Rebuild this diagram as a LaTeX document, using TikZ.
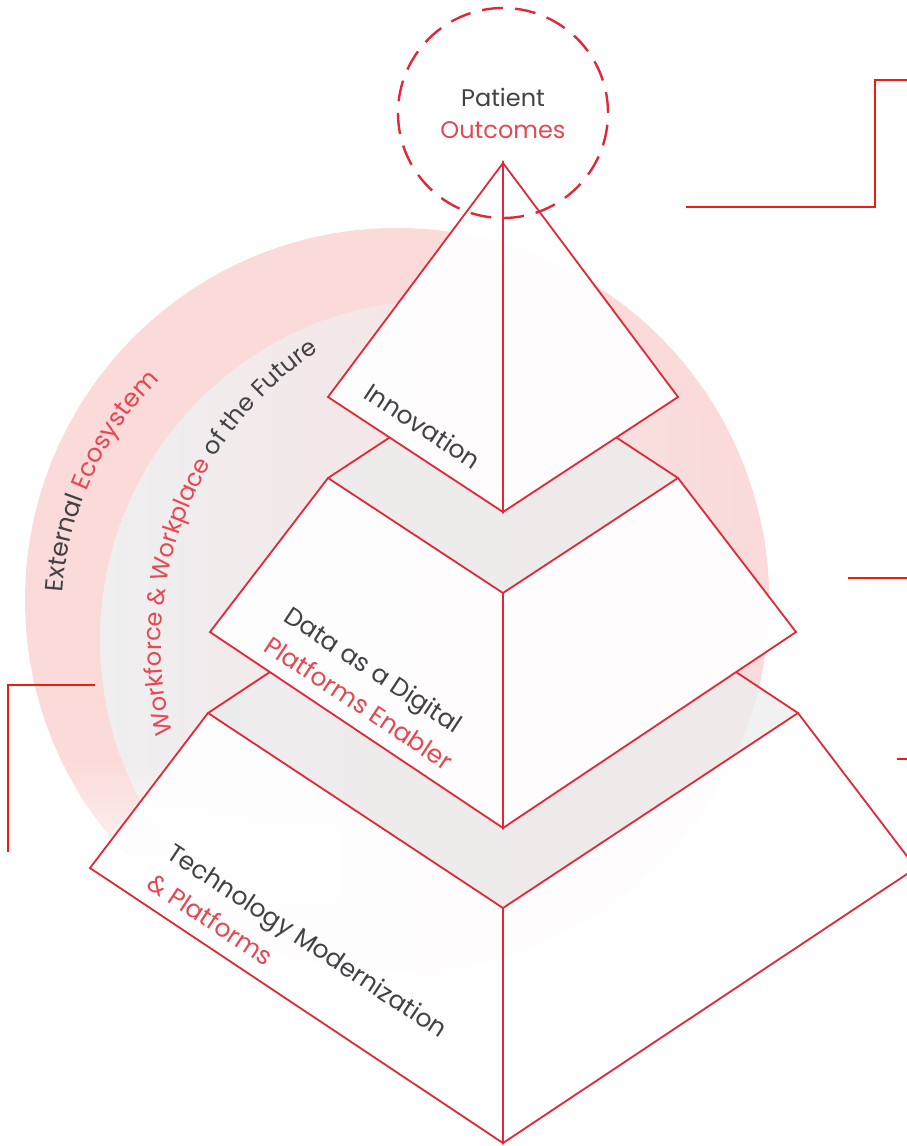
\documentclass[tikz,border=0pt]{standalone}
\usepackage{fontspec}
\setmainfont{Poppins}
\usetikzlibrary{decorations.text, fadings}

\definecolor{pyrred}{RGB}{226,40,56}
\definecolor{wirered}{RGB}{240,28,20}
\definecolor{txtred}{RGB}{228,72,82}
\definecolor{txtgray}{RGB}{66,66,70}
\definecolor{ringpink}{RGB}{251,218,218}
\definecolor{ringgray}{RGB}{239,239,240}

\newcommand\arcgray{\fontsize{25}{25}\selectfont\color{txtgray}}
\newcommand\arcred{\fontsize{25}{25}\selectfont\color{txtred}}
\newcommand\innergray{\fontsize{24}{24}\selectfont\color{txtgray}}
\newcommand\innerred{\fontsize{24}{24}\selectfont\color{txtred}}

\begin{document}
\begin{tikzpicture}[x=1pt, y=1pt,
        edgeline/.style={draw=pyrred, line width=1.8pt, line join=miter},
        face/.style={edgeline, fill=white, fill opacity=0.92},
        band/.style={fill=black!7, fill opacity=0.8},
        wire/.style={draw=wirered, line width=2.6pt},
        tiertext/.style={font=\fontsize{25}{36}\selectfont, text=txtgray, inner sep=0pt, align=left, rotate=-33.5, anchor=north west},
        goal/.style={circle, draw=pyrred, line width=2.4pt, dash pattern=on 21pt off 12pt, minimum size=210pt, align=center, text=txtgray, font=\fontsize{24}{32}\selectfont},
    ]
    \useasboundingbox (0,0) rectangle (907,-1146);
    \clip (0,0) rectangle (907,-1146);

    % rings behind the pyramid
    \fill[ringpink] (397,-600) circle[radius=372];
    \begin{scope}
        \clip (397,-600) circle[radius=372];
        \shade[left color=ringgray, middle color=ringgray, right color=ringpink] (440,-640) circle[radius=340];
    \end{scope}
    \fill[white, path fading=north] (0,-760) rectangle (340,-900);

    \path[decorate, decoration={text along path, text align=left,
        text={|\arcgray|External |\arcred|Ecosystem}}]
        (397,-616) ++(176:335) arc[start angle=176, end angle=100, radius=335];
    \path[decorate, decoration={text along path, text align=left,
        text={|\innerred|Workforce {\&} Workplace |\innergray|of the Future}}]
        (514,-645) ++(194.5:353) arc[start angle=194.5, end angle=95, radius=353];

    \coordinate (apex) at (503,-163);
    \coordinate (il) at (328,-397);
    \coordinate (if) at (503,-512);
    \coordinate (ir) at (678,-397);

    \coordinate (dtl) at (328,-478);
    \coordinate (dtf) at (503,-593);
    \coordinate (dtr) at (678,-478);
    \coordinate (dtb) at (503,-363);
    \coordinate (dbl) at (210,-632);
    \coordinate (dbf) at (503,-828);
    \coordinate (dbr) at (796,-632);

    \coordinate (ttl) at (208,-713);
    \coordinate (ttf) at (503,-908);
    \coordinate (ttr) at (798,-713);
    \coordinate (ttb) at (503,-518);
    \coordinate (tbl) at (90,-868);
    \coordinate (tbf) at (503,-1143);
    \coordinate (tbr) at (916,-868);

    \coordinate (dj1) at (intersection of dtl--dtb and il--if);
    \coordinate (dj2) at (intersection of dtr--dtb and ir--if);
    \coordinate (tj1) at (intersection of ttl--ttb and dbl--dbf);
    \coordinate (tj2) at (intersection of ttr--ttb and dbr--dbf);

    % bottom tier
    \fill[band] (ttl) -- (ttf) -- (ttr) -- (tj2) -- (dbf) -- (tj1) -- cycle;
    \draw[face] (ttl) -- (ttf) -- (tbf) -- (tbl) -- cycle;
    \draw[face] (ttf) -- (ttr) -- (tbr) -- (tbf) -- cycle;
    \draw[edgeline] (ttl) -- (tj1) (ttr) -- (tj2);

    % middle tier
    \fill[band] (dtl) -- (dtf) -- (dtr) -- (dj2) -- (if) -- (dj1) -- cycle;
    \draw[face] (dtl) -- (dtf) -- (dbf) -- (dbl) -- cycle;
    \draw[face] (dtf) -- (dtr) -- (dbr) -- (dbf) -- cycle;
    \draw[edgeline] (dtl) -- (dj1) (dtr) -- (dj2);

    % top
    \draw[face] (apex) -- (il) -- (if) -- cycle;
    \draw[face] (apex) -- (if) -- (ir) -- cycle;

    \node[tiertext] (innov) at (373,-381) {Innovation};
    \node[tiertext] (data) at (293,-604) {Data as a Digital\\\textcolor{txtred}{Platforms Enabler}};
    \node[tiertext] (tech) at (176,-841) {Technology Modernization\\\textcolor{txtred}{\& Platforms}};

    \node[goal] (outcome) at (503,-113) {Patient\\\textcolor{txtred}{Outcomes}};

    \coordinate (w1a) at (686,-207);
    \coordinate (w1c) at (875,-80);
    \coordinate (w1d) at (907,-80);
    \coordinate (w2a) at (848,-578);
    \coordinate (w2b) at (907,-578);
    \coordinate (w3a) at (897,-759);
    \coordinate (w3b) at (907,-759);
    \coordinate (w4a) at (95,-685);
    \coordinate (w4c) at (8,-852);

    \draw[wire] (w1a) -| (w1c) -- (w1d);
    \draw[wire] (w2a) -- (w2b);
    \draw[wire] (w3a) -- (w3b);
    \draw[wire] (w4a) -| (w4c);
\end{tikzpicture}
\end{document}
